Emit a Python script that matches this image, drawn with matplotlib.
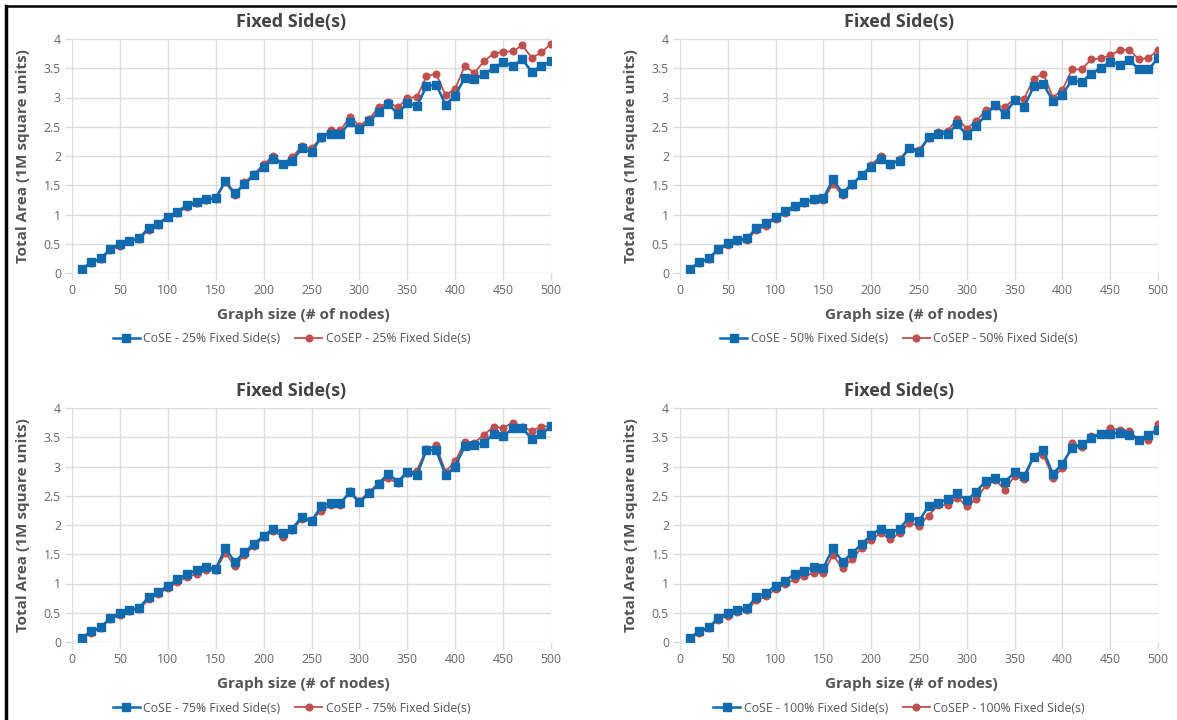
import matplotlib.pyplot as plt
from matplotlib.lines import Line2D

plt.rcParams['font.family'] = ['Open Sans', 'DejaVu Sans']

nodes = list(range(10, 510, 10))

cose_25 = [0.07, 0.18, 0.25, 0.41, 0.50, 0.55, 0.59, 0.77, 0.84, 0.96,
           1.05, 1.16, 1.22, 1.26, 1.28, 1.57, 1.36, 1.52, 1.67, 1.82,
           1.95, 1.87, 1.91, 2.14, 2.06, 2.32, 2.38, 2.37, 2.58, 2.46,
           2.59, 2.75, 2.89, 2.72, 2.91, 2.85, 3.19, 3.22, 2.88, 3.03,
           3.34, 3.31, 3.40, 3.50, 3.60, 3.54, 3.65, 3.44, 3.54, 3.62]
cosep_25 = [0.07, 0.17, 0.24, 0.39, 0.47, 0.54, 0.58, 0.74, 0.82, 0.96,
            1.02, 1.13, 1.19, 1.25, 1.27, 1.55, 1.33, 1.55, 1.69, 1.86,
            2.00, 1.87, 1.98, 2.17, 2.13, 2.31, 2.45, 2.44, 2.66, 2.52,
            2.63, 2.83, 2.92, 2.83, 2.99, 3.01, 3.36, 3.41, 3.04, 3.15,
            3.54, 3.42, 3.62, 3.75, 3.78, 3.79, 3.89, 3.68, 3.77, 3.92]

cose_50 = [0.07, 0.18, 0.25, 0.41, 0.51, 0.56, 0.59, 0.77, 0.85, 0.95,
           1.06, 1.15, 1.22, 1.26, 1.28, 1.60, 1.37, 1.52, 1.67, 1.82,
           1.95, 1.87, 1.92, 2.14, 2.06, 2.32, 2.38, 2.38, 2.54, 2.36,
           2.52, 2.70, 2.88, 2.71, 2.96, 2.84, 3.19, 3.23, 2.94, 3.05,
           3.30, 3.26, 3.41, 3.50, 3.61, 3.56, 3.64, 3.48, 3.48, 3.67]
cosep_50 = [0.07, 0.17, 0.24, 0.39, 0.48, 0.54, 0.57, 0.73, 0.81, 0.93,
            1.02, 1.12, 1.19, 1.25, 1.25, 1.52, 1.33, 1.51, 1.67, 1.85,
            2.00, 1.85, 1.95, 2.14, 2.11, 2.31, 2.41, 2.43, 2.64, 2.47,
            2.60, 2.78, 2.85, 2.84, 2.98, 2.98, 3.32, 3.41, 3.00, 3.13,
            3.48, 3.48, 3.65, 3.67, 3.72, 3.81, 3.82, 3.65, 3.68, 3.81]

cose_75 = [0.07, 0.18, 0.25, 0.41, 0.50, 0.55, 0.58, 0.77, 0.85, 0.96,
           1.07, 1.16, 1.23, 1.28, 1.25, 1.60, 1.37, 1.53, 1.68, 1.81,
           1.94, 1.87, 1.94, 2.14, 2.06, 2.32, 2.38, 2.37, 2.56, 2.39,
           2.54, 2.70, 2.88, 2.74, 2.91, 2.85, 3.28, 3.28, 2.85, 3.00,
           3.35, 3.37, 3.40, 3.56, 3.52, 3.65, 3.66, 3.47, 3.55, 3.69]
cosep_75 = [0.07, 0.16, 0.24, 0.39, 0.46, 0.53, 0.56, 0.73, 0.82, 0.92,
            1.02, 1.11, 1.16, 1.23, 1.23, 1.52, 1.30, 1.49, 1.64, 1.79,
            1.90, 1.80, 1.92, 2.10, 2.08, 2.24, 2.34, 2.35, 2.58, 2.41,
            2.57, 2.71, 2.80, 2.71, 2.89, 2.93, 3.30, 3.36, 2.91, 3.09,
            3.42, 3.41, 3.54, 3.68, 3.66, 3.75, 3.68, 3.61, 3.68, 3.69]

cose_100 = [0.07, 0.18, 0.25, 0.41, 0.50, 0.55, 0.58, 0.77, 0.84, 0.96,
            1.05, 1.16, 1.22, 1.28, 1.27, 1.60, 1.37, 1.52, 1.67, 1.83,
            1.94, 1.87, 1.94, 2.14, 2.07, 2.32, 2.38, 2.44, 2.54, 2.42,
            2.57, 2.76, 2.81, 2.74, 2.90, 2.84, 3.17, 3.28, 2.87, 3.05,
            3.31, 3.38, 3.48, 3.56, 3.55, 3.58, 3.54, 3.46, 3.54, 3.62]
cosep_100 = [0.07, 0.16, 0.24, 0.38, 0.45, 0.52, 0.55, 0.71, 0.78, 0.90,
             0.99, 1.07, 1.13, 1.18, 1.18, 1.49, 1.26, 1.42, 1.61, 1.75,
             1.86, 1.76, 1.86, 2.04, 1.99, 2.16, 2.34, 2.34, 2.47, 2.32,
             2.44, 2.68, 2.77, 2.60, 2.84, 2.78, 3.17, 3.20, 2.81, 2.97,
             3.40, 3.33, 3.52, 3.56, 3.65, 3.63, 3.60, 3.46, 3.46, 3.72]

percent_labels = ['25%', '50%', '75%', '100%']
cose_series = [cose_25, cose_50, cose_75, cose_100]
cosep_series = [cosep_25, cosep_50, cosep_75, cosep_100]

BLUE = '#1169ae'
RED = '#c0504d'
GRID = '#dcdcdc'
TEXT = '#555555'

W, H = 1177, 720
fig = plt.figure(figsize=(W / 100, H / 100), dpi=100)

# panel geometry in pixels: left, top, right, bottom of each plot area
boxes = [(72, 39, 551, 273), (680, 39, 1158, 273),
         (72, 408, 551, 642), (680, 408, 1158, 642)]

for i, (pct, cose, cosep) in enumerate(zip(percent_labels, cose_series, cosep_series)):
    l, t, r, b = boxes[i]
    ax = fig.add_axes([l / W, 1 - b / H, (r - l) / W, (b - t) / H])
    ax.plot(nodes, cosep, color=RED, lw=1.3, marker='o', ms=4.8, zorder=3)
    ax.plot(nodes, cose, color=BLUE, lw=1.8, marker='s', ms=5.2, zorder=4)
    ax.set_xlim(0, 500)
    ax.set_ylim(0, 4)
    ax.set_xticks(range(0, 501, 50))
    ax.set_yticks([0, 0.5, 1, 1.5, 2, 2.5, 3, 3.5, 4])
    ax.set_yticklabels(['0', '0.5', '1', '1.5', '2', '2.5', '3', '3.5', '4'])
    ax.grid(True, color=GRID, lw=1)
    ax.set_axisbelow(True)
    for s in ax.spines.values():
        s.set_visible(False)
    ax.tick_params(colors=GRID, labelcolor='#666666', labelsize=8.8, length=5, width=1, pad=3)
    ax.set_xlabel('Graph size (# of nodes)', fontsize=11, fontweight='bold', color=TEXT)
    ax.xaxis.set_label_coords(0.5 - 8 / (r - l), -35 / (b - t))
    ax.set_ylabel('Total Area (1M square units)', fontsize=11, fontweight='bold', color=TEXT)
    ax.yaxis.set_label_coords(-42 / (r - l), 0.5)

    cx = (l + r) / 2 - 20
    fig.text(cx / W, 1 - (t - 17) / H, 'Fixed Side(s)', ha='center', va='center',
             fontsize=13, fontweight='bold', color='#444444')

    handles = [Line2D([], [], color=BLUE, lw=1.8, marker='s', ms=5.2),
               Line2D([], [], color=RED, lw=1.3, marker='o', ms=4.8)]
    names = [f'CoSE - {pct} Fixed Side(s)', f'CoSEP - {pct} Fixed Side(s)']
    fig.legend(handles, names, loc='center', bbox_to_anchor=(cx / W, 1 - (b + 66) / H),
               ncol=2, frameon=False, fontsize=8.8, handlelength=2.2, handletextpad=0.3,
               columnspacing=1.2, labelcolor='#555555')

# frame lines along the left and top edges
fig.add_artist(Line2D([6 / W, 6 / W], [0, 1 - 6 / H], color='black', lw=2.5))
fig.add_artist(Line2D([6 / W, 1], [1 - 6 / H, 1 - 6 / H], color='black', lw=1.8))

fig.savefig('out.png', dpi=100)
